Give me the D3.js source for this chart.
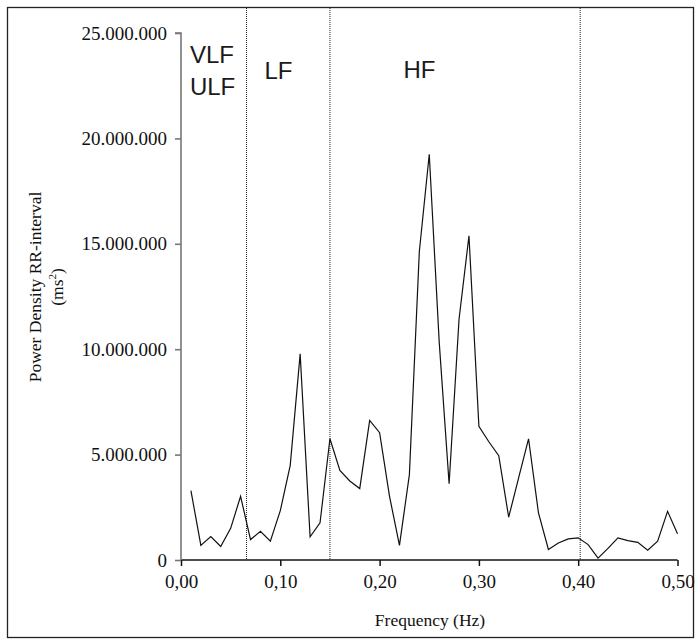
<!DOCTYPE html>
<html>
<head>
<meta charset="utf-8">
<script src="https://cdn.jsdelivr.net/npm/d3@7"></script>
<style>
    body { margin: 0; background: #fff; }
    svg { display: block; }
</style>
</head>
<body>
<svg id="drawing_region"></svg>
<script>
// frequency bins (Hz)
const freqs = [0.01,0.02,0.03,0.04,0.05,0.06,0.07,0.08,0.09,0.10,
               0.11,0.12,0.13,0.14,0.15,0.16,0.17,0.18,0.19,0.20,
               0.21,0.22,0.23,0.24,0.25,0.26,0.27,0.28,0.29,0.30,
               0.31,0.32,0.33,0.34,0.35,0.36,0.37,0.38,0.39,0.40,
               0.41,0.42,0.43,0.44,0.45,0.46,0.47,0.48,0.49,0.50];

// power density RR-interval (ms^2)
const power = [3290000, 690000,1110000, 640000,1500000,3020000, 970000,1360000, 890000,2340000,
               4490000,9780000,1100000,1760000,5750000,4250000,3750000,3390000,6620000,6040000,
               3020000, 690000,4050000,14620000,19250000,10360000,3620000,11420000,15380000,6340000,
               5610000,4950000,2030000,3900000,5750000,2230000, 500000, 810000,1000000,1050000,
                730000,  90000, 550000,1050000, 920000, 840000, 460000, 890000,2310000,1250000];

const xTicks = [0, 0.1, 0.2, 0.3, 0.4, 0.5];
const yTicks = [0, 5000000, 10000000, 15000000, 20000000, 25000000];

// band borders and names
const bandLines = [0.066, 0.15, 0.402];
const bandNames = [
    {text: "VLF", f: 0.009, y: 63},
    {text: "ULF", f: 0.009, y: 95},
    {text: "LF",  f: 0.084, y: 79},
    {text: "HF",  f: 0.224, y: 78}
];

const data = freqs.map((f, i) => ({f: f, p: power[i]}));

const locale = d3.formatLocale({decimal: ",", thousands: ".", grouping: [3], currency: ["", ""]});
const serif = "'Liberation Serif', 'Times New Roman', serif";

class SpectrumChart {

    constructor( config, data ) {
        this.config = config;
        this.data = data;
        this.init();
    }

    init() {
        let self = this;

        self.svg = d3.select( self.config.parent )
            .attr('width', self.config.width)
            .attr('height', self.config.height);

        // outer frame
        self.svg.append('rect')
            .attr('x', 7.5).attr('y', 7.5)
            .attr('width', 686).attr('height', 630)
            .attr('fill', 'none')
            .attr('stroke', '#222')
            .attr('stroke-width', 1.3);

        self.xscale = d3.scaleLinear()
            .domain([0, 0.5])
            .range([181, 677.5]);

        self.yscale = d3.scaleLinear()
            .domain([0, 25000000])
            .range([560, 33]);

        self.xaxis = d3.axisBottom( self.xscale )
            .tickValues(xTicks)
            .tickSize(6)
            .tickPadding(9)
            .tickFormat(locale.format(",.2f"));

        self.yaxis = d3.axisLeft( self.yscale )
            .tickValues(yTicks)
            .tickSize(6)
            .tickPadding(8)
            .tickFormat(locale.format(",.0f"));

        self.xaxis_group = self.svg.append('g')
            .attr('transform', `translate(0, ${self.yscale(0)})`);

        self.yaxis_group = self.svg.append('g')
            .attr('transform', `translate(${self.xscale(0)}, 0)`);

        self.xlabel = self.svg.append('text')
            .attr("x", 430)
            .attr("y", 626)
            .attr("text-anchor", "middle")
            .style("font-family", serif)
            .style("font-size", "17.5px")
            .attr("fill", "#111")
            .text("Frequency (Hz)");

        self.ylabel = self.svg.append('text')
            .attr("transform", "translate(41, 287) rotate(-90)")
            .attr("text-anchor", "middle")
            .style("font-family", serif)
            .style("font-size", "17.5px")
            .attr("fill", "#111")
            .text("Power Density RR-interval");

        const unit = self.svg.append('text')
            .attr("transform", "translate(63, 287) rotate(-90)")
            .attr("text-anchor", "middle")
            .style("font-family", serif)
            .style("font-size", "17.5px")
            .attr("fill", "#111");
        unit.append('tspan').text("(ms");
        unit.append('tspan').attr("dy", -7).style("font-size", "11px").text("2");
        unit.append('tspan').attr("dy", 7).text(")");
    }

    render() {
        let self = this;

        self.xaxis_group.call( self.xaxis );
        self.yaxis_group.call( self.yaxis );

        self.svg.selectAll('.tick text')
            .style("font-family", serif)
            .style("font-size", "19px")
            .attr("fill", "#111");

        self.xaxis_group.selectAll('path, line')
            .attr('stroke', '#111')
            .attr('stroke-width', 1.5);
        self.xaxis_group.select('.domain')
            .attr('d', `M${self.xscale(0)},0H${self.xscale(0.5)}`);

        self.yaxis_group.selectAll('path, line')
            .attr('stroke', '#777')
            .attr('stroke-width', 1.6);
        self.yaxis_group.select('.domain')
            .attr('d', `M-6,${self.yscale(25000000)}H0V${self.yscale(0)}`);

        // dotted band borders
        self.svg.selectAll('.band')
            .data(bandLines)
            .enter()
            .append('line')
            .attr('class', 'band')
            .attr('x1', d => self.xscale(d))
            .attr('x2', d => self.xscale(d))
            .attr('y1', 8)
            .attr('y2', self.yscale(0))
            .attr('stroke', '#222')
            .attr('stroke-width', 1)
            .attr('stroke-dasharray', '1,1');

        self.svg.selectAll('.bandname')
            .data(bandNames)
            .enter()
            .append('text')
            .attr('class', 'bandname')
            .attr('x', d => self.xscale(d.f))
            .attr('y', d => d.y)
            .style('font-family', "'Liberation Sans', Arial, sans-serif")
            .style('font-size', '24px')
            .attr('fill', '#1a1a1a')
            .text(d => d.text);

        const line = d3.line()
            .x(d => self.xscale(d.f))
            .y(d => self.yscale(d.p));

        self.svg.append('path')
            .datum(self.data)
            .attr('d', line)
            .attr('fill', 'none')
            .attr('stroke', '#111')
            .attr('stroke-width', 1.2)
            .attr('stroke-linejoin', 'miter');
    }
}

const config = {
    parent: '#drawing_region',
    width: 700,
    height: 644
};

const chart = new SpectrumChart( config, data );
chart.render();
</script>
</body>
</html>
